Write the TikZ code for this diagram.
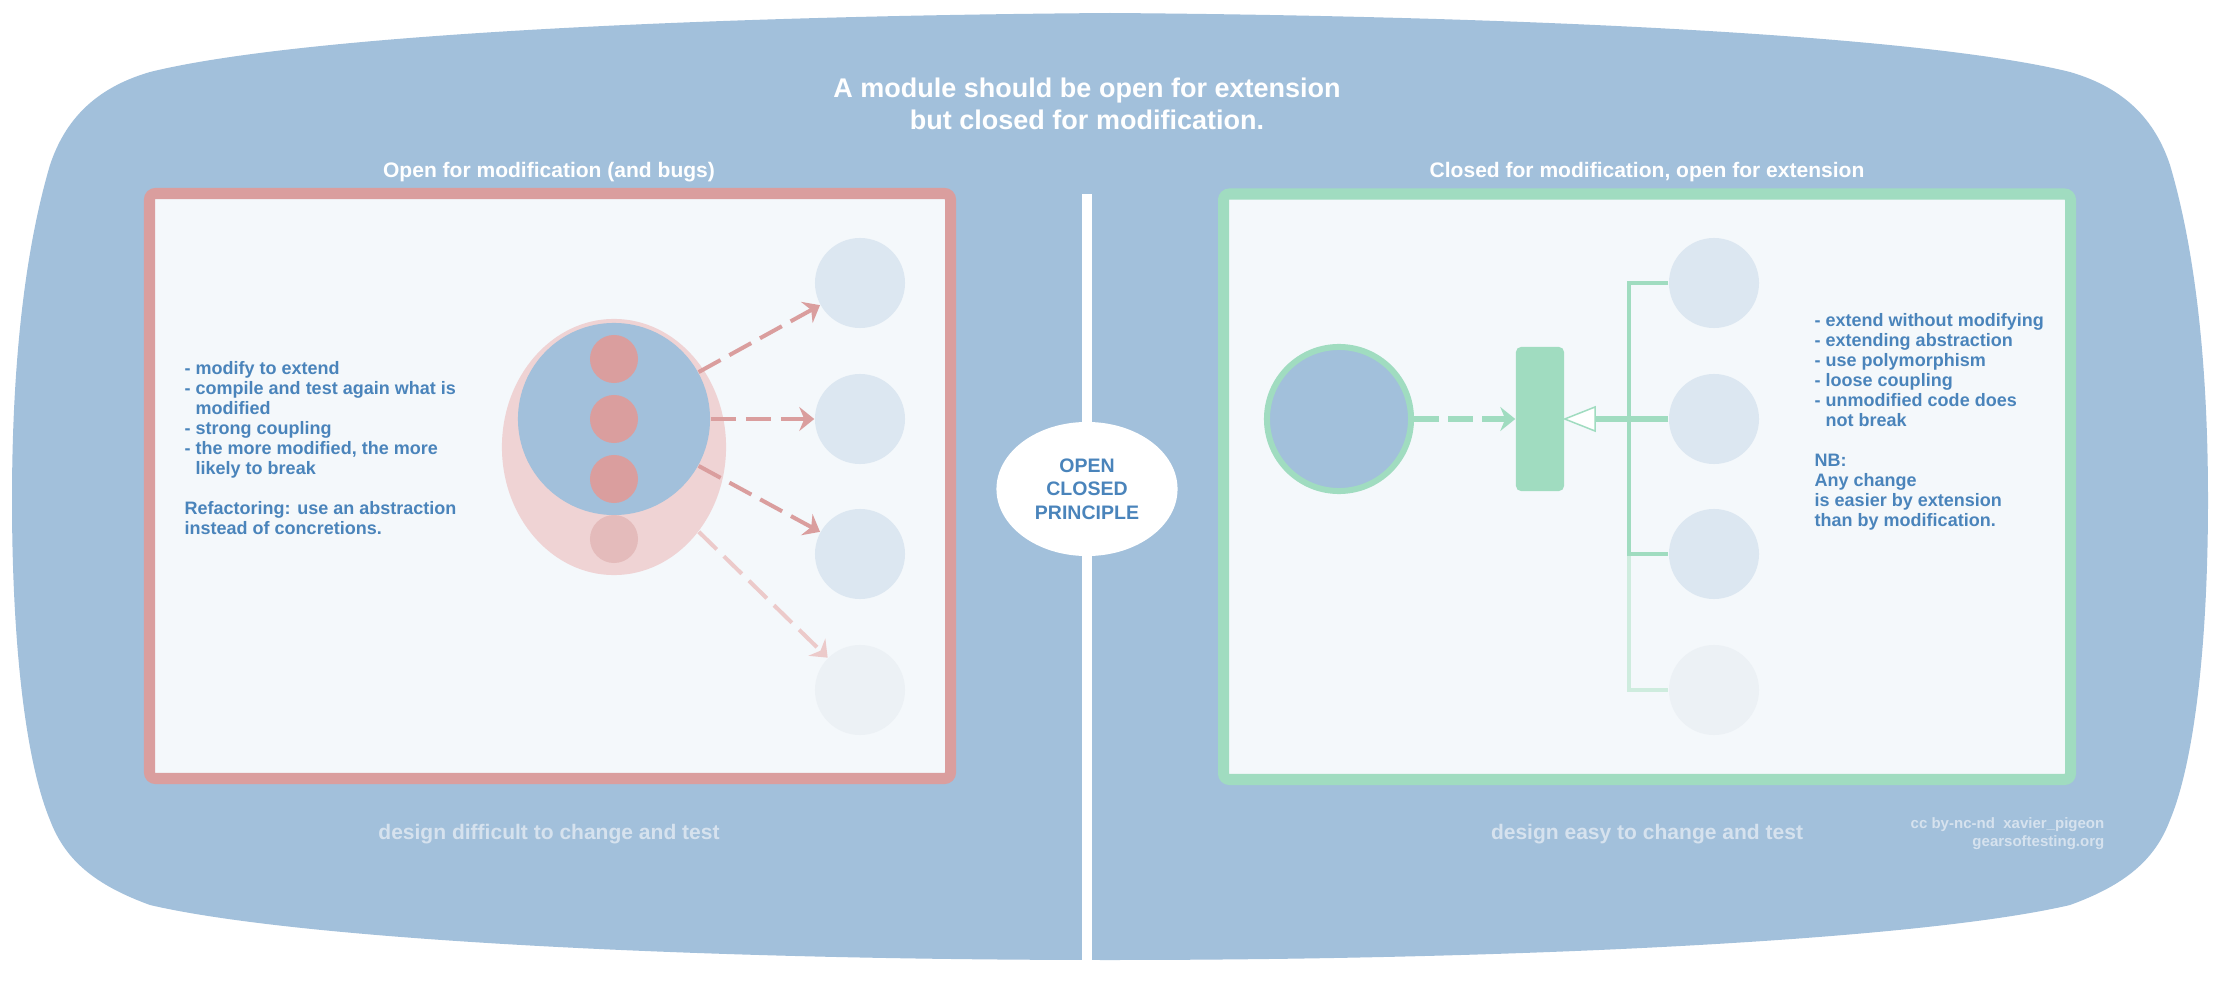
\documentclass[tikz,border=0pt]{standalone}
\usepackage{fontspec}
\setmainfont{Liberation Sans}
\usetikzlibrary{shapes.geometric,arrows.meta}
\definecolor{blobblue}{RGB}{162,192,219}
\definecolor{panelbg}{RGB}{244,248,251}
\definecolor{redc}{RGB}{218,158,158}
\definecolor{redfade}{RGB}{236,202,202}
\definecolor{dotfade}{RGB}{228,187,187}
\definecolor{pinkc}{RGB}{239,211,212}
\definecolor{greenc}{RGB}{160,220,192}
\definecolor{greenfade}{RGB}{206,236,222}
\definecolor{tgt}{RGB}{220,231,241}
\definecolor{tgtfade}{RGB}{236,241,245}
\definecolor{txtblue}{RGB}{74,132,187}
\definecolor{footc}{RGB}{214,226,238}
\tikzset{
  tgtnode/.style={circle, fill=tgt, inner sep=0pt, minimum size=0.9cm},
  tgtfaded/.style={circle, fill=tgtfade, inner sep=0pt, minimum size=0.9cm},
  dotnode/.style={circle, fill=redc, inner sep=0pt, minimum size=0.48cm},
  panelbox/.style={line width=0.11cm, fill=panelbg, rounded corners=0.06cm},
  redarrow/.style={draw=redc, line width=0.04cm, dash pattern=on 0.25cm off 0.1cm,
    -{Stealth[length=0.15cm,width=0.24cm,inset=0.05cm]}},
  greenarrow/.style={draw=greenc, line width=0.05cm, dash pattern=on 0.25cm off 0.09cm,
    -{Stealth[length=0.15cm,width=0.24cm,inset=0.05cm]}},
  gline/.style={draw=greenc, line width=0.04cm},
  titletext/.style={font=\bfseries\fontsize{7.68}{9.1}\selectfont, text=white, align=center, inner sep=0pt},
  paneltitle/.style={font=\bfseries\fontsize{5.98}{7}\selectfont, text=white, inner sep=0pt},
  bodytext/.style={font=\bfseries\fontsize{5.12}{5.69}\selectfont, text=txtblue, align=left, inner sep=0pt, anchor=north west},
  foottext/.style={font=\bfseries\fontsize{5.98}{7}\selectfont, text=footc, inner sep=0pt},
  credittext/.style={font=\bfseries\fontsize{4.27}{5.1}\selectfont, text=footc, align=right, inner sep=0pt, anchor=east},
  ocptext/.style={font=\bfseries\fontsize{5.55}{6.69}\selectfont, text=txtblue, align=center}
}
\begin{document}
\begin{tikzpicture}[x=0.01cm,y=-0.01cm]
\useasboundingbox (0,0) rectangle (2220,988);
\fill[white] (0,0) rectangle (2220,988);
% background blob
\fill[blobblue] (1110,13)
  .. controls (700,16) and (300,35) .. (150,72)
  .. controls (95,88) and (65,120) .. (50,165)
  .. controls (22,260) and (12,380) .. (12,500)
  .. controls (12,640) and (25,760) .. (50,820)
  .. controls (65,860) and (95,885) .. (150,905)
  .. controls (300,940) and (700,960) .. (1110,960)
  .. controls (1520,960) and (1920,940) .. (2070,905)
  .. controls (2125,885) and (2155,860) .. (2170,820)
  .. controls (2195,760) and (2208,640) .. (2208,500)
  .. controls (2208,380) and (2198,260) .. (2170,165)
  .. controls (2155,120) and (2125,88) .. (2070,72)
  .. controls (1920,35) and (1520,16) .. (1110,13) -- cycle;
% divider
\fill[white] (1082,194) rectangle (1092,988);
\node[ellipse, fill=white, minimum width=1.81cm, minimum height=1.34cm, inner sep=0pt] (ocp) at (1087,489) {};
\node[ocptext] (ocpt) at (1087,489) {OPEN\\CLOSED\\PRINCIPLE};
% title
\node[titletext] (title) at (1087,104) {A module should be open for extension\\but closed for modification.};
% panels
\draw[panelbox, draw=redc] (149.5,193.5) rectangle (950.5,778.5);
\draw[panelbox, draw=greenc] (1223.5,194) rectangle (2070.5,779.5);
\node[paneltitle] (ltitle) at (549,172) {Open for modification (and bugs)};
\node[paneltitle] (rtitle) at (1647,172) {Closed for modification, open for extension};
% left content
\node[ellipse, fill=pinkc, minimum width=2.24cm, minimum height=2.56cm, inner sep=0pt] (pink) at (614,447) {};
\node[circle, fill=blobblue, minimum size=1.92cm, inner sep=0pt] (blue) at (614,419) {};
\node[dotnode] (d1) at (614,359) {};
\node[dotnode] (d2) at (614,419) {};
\node[dotnode] (d3) at (614,479) {};
\node[dotnode, fill=dotfade] (d4) at (614,539) {};
\node[tgtnode] (t1) at (860,283) {};
\node[tgtnode] (t2) at (860,419) {};
\node[tgtnode] (t3) at (860,554) {};
\node[tgtfaded] (t4) at (860,690) {};
\draw[redarrow] (blue.29) -- (t1.209);
\draw[redarrow] (blue.east) -- (t2.west);
\draw[redarrow] (blue.-29) -- (t3.151);
\draw[redarrow, draw=redfade] (pink.-45) -- (t4.135);
\node[bodytext] (ltext) at (184,361) {- modify to extend\\- compile and test again what is\\\phantom{- }modified\\- strong coupling\\- the more modified, the more\\\phantom{- }likely to break\\[5.69pt]Refactoring: use an abstraction\\instead of concretions.};
% right content
\node[circle, draw=greenc, line width=0.06cm, fill=blobblue, minimum size=1.44cm, inner sep=0pt] (big) at (1339,419) {};
\node[rectangle, fill=greenc, rounded corners=0.05cm, minimum width=0.48cm, minimum height=1.44cm, inner sep=0pt] (abs) at (1540,419) {};
\node[tgtnode] (r1) at (1714,283) {};
\node[tgtnode] (r2) at (1714,419) {};
\node[tgtnode] (r3) at (1714,554) {};
\node[tgtfaded] (r4) at (1714,690) {};
\coordinate (bus) at (1629,0);
\coordinate (trib) at (1595,419);
\draw[greenarrow] (big.east) -- (abs.west);
\draw[gline, draw=greenfade] (r3.west -| bus) -- (r4.west -| bus) -- (r4.west);
\draw[gline] (r1.west) -- (r1.west -| bus) -- (r3.west -| bus) -- (r3.west);
\draw[gline, line width=0.05cm] (r2.west) -- (trib);
\draw[draw=greenc, line width=0.015cm, fill=white, line join=miter] (abs.east) -- (1595,407) -- (1595,431) -- cycle;
\node[bodytext] (rtext) at (1814,313) {- extend without modifying\\- extending abstraction\\- use polymorphism\\- loose coupling\\- unmodified code does\\\phantom{- }not break\\[5.69pt]NB:\\Any change\\is easier by extension\\than by modification.};
% footer
\node[foottext] (lfoot) at (549,834) {design difficult to change and test};
\node[foottext] (rfoot) at (1647,834) {design easy to change and test};
\node[credittext] (credit) at (2105,834) {cc by-nc-nd\ \ xavier\_pigeon\\gearsoftesting.org};
\end{tikzpicture}
\end{document}
